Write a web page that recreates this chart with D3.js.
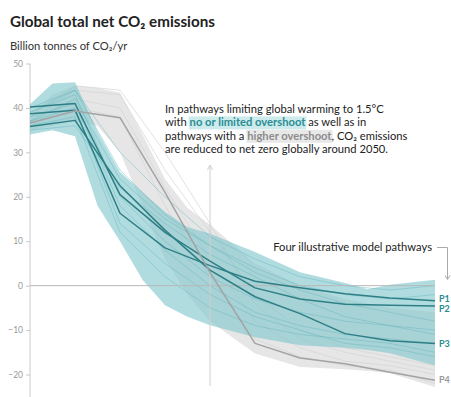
<!DOCTYPE html>
<html>
<head>
<meta charset="utf-8">
<script src="https://cdn.jsdelivr.net/npm/d3@7"></script>
<style>
  html, body { margin: 0; padding: 0; background: #fff; }
  svg { display: block; font-family: Lato, "Noto Sans", sans-serif; }
  text { white-space: pre; }
</style>
</head>
<body>
<svg id="chart" width="451" height="397"></svg>
<script>
// Decadal years for the individual pathways
const years = [2010, 2020, 2030, 2040, 2050, 2060, 2070, 2080, 2090, 2100];

// Illustrative model pathways (billion tonnes CO2 / yr)
const P1 = [38.7, 39.5, 16.3, 8.5, 4.5, 1.0, -0.5, -1.8, -2.8, -3.4];
const P2 = [40.2, 41.0, 20.5, 12.0, 5.5, -0.5, -3.0, -4.2, -4.4, -4.6];
const P3 = [35.8, 37.2, 22.5, 12.5, 3.5, -2.5, -6.3, -10.8, -12.4, -13.0];
const P4 = [36.6, 39.3, 37.8, 21.0, 3.0, -13.0, -16.3, -17.6, -19.5, -21.3];
const pathwayNames = ["P1", "P2", "P3", "P4"];

// Range envelopes, sampled more finely
const bandYears = [2010, 2015, 2020, 2025, 2030, 2035, 2040, 2045, 2050, 2060, 2070, 2080, 2085, 2090, 2100];
const lowUpper  = [40.8, 45.5, 45.8, 34.7, 25.6, 21.0, 16.6, 13.2, 11.7, 7.6, 3.0, 0.6, -0.8, 0.2, 1.3];
const lowLower  = [34.0, 35.0, 33.6, 18.0, 10.0, 1.3, -4.4, -7.0, -8.9, -11.6, -13.4, -14.0, -14.5, -15.2, -18.0];
const highUpper = [38.0, 43.0, 45.0, 44.5, 43.4, 34.0, 24.0, 17.5, 13.7, 5.0, 0.0, -3.0, -4.0, -5.0, -6.0];
const highLower = [35.0, 36.0, 37.0, 36.0, 30.0, 18.0, 6.0, -2.0, -8.0, -15.3, -18.3, -18.8, -19.2, -19.7, -22.8];

// Faint individual scenarios inside each envelope
const lowScenarios = [
  [40.0, 44.0, 30.0, 20.0, 11.0, 6.0, 2.0, 0.0, -1.0, 0.0],
  [37.0, 42.0, 24.0, 15.0, 9.0, 4.0, 0.0, -2.0, -3.0, -2.0],
  [39.0, 43.0, 20.0, 10.0, 2.0, -3.0, -6.0, -8.0, -9.0, -10.0],
  [36.0, 38.0, 12.0, 2.0, -5.0, -9.0, -11.0, -12.0, -13.0, -15.0],
  [38.0, 41.0, 18.0, 8.0, 0.0, -6.0, -9.0, -11.0, -12.0, -13.0],
  [35.0, 36.0, 22.0, 14.0, 7.0, 2.0, -3.0, -7.0, -9.0, -11.0],
  [39.0, 44.0, 26.0, 16.0, 9.0, 3.0, -1.0, -4.0, -6.0, -8.0],
  [37.0, 40.0, 14.0, 5.0, -2.0, -7.0, -10.0, -13.0, -14.0, -16.0]
];
const highScenarios = [
  [37.0, 44.0, 43.0, 26.0, 12.0, -2.0, -10.0, -14.0, -16.0, -18.0],
  [36.0, 42.0, 40.0, 22.0, 6.0, -8.0, -14.0, -17.0, -18.0, -20.0],
  [38.0, 45.0, 44.0, 30.0, 14.0, -4.0, -12.0, -15.0, -17.0, -19.0],
  [36.0, 40.0, 38.0, 18.0, 2.0, -12.0, -16.0, -18.0, -19.0, -22.0]
];

const yTicks = [50, 40, 30, 20, 10, 0, -10, -20];

const teal = "#2d7f85";
const tealLabel = "#2a8a90";
const greyLine = "#a3a3a3";

const svg = d3.select("#chart");

const x = d3.scaleLinear().domain([2010, 2100]).range([30, 435]);
const y = d3.scaleLinear().domain([-20, 50]).range([374.5, 63.5]);

// Title and unit
svg.append("text").attr("x", 10).attr("y", 27)
  .attr("font-size", 15.2).attr("font-weight", 700).attr("fill", "#222")
  .text("Global total net CO₂ emissions");
svg.append("text").attr("x", 10).attr("y", 50)
  .attr("font-size", 11.2).attr("fill", "#333")
  .text("Billion tonnes of CO₂/yr");

// Y axis
svg.append("line").attr("x1", 30).attr("x2", 30).attr("y1", y(50)).attr("y2", 397)
  .attr("stroke", "#dcdcdc").attr("stroke-width", 1.5);
const yAxis = svg.append("g").attr("transform", "translate(30,0)")
  .call(d3.axisLeft(y).tickValues(yTicks).tickSize(4).tickPadding(3));
yAxis.select(".domain").remove();
yAxis.selectAll(".tick line").attr("stroke", "#c8c8c8");
yAxis.selectAll(".tick text").attr("fill", "#9a9a9a").attr("font-size", 8.5)
  .attr("font-family", "Lato, sans-serif");

// Envelopes
const area = (up, lo) => d3.area()
  .x((d, i) => x(bandYears[i]))
  .y0((d, i) => y(lo[i]))
  .y1((d, i) => y(up[i]))(up);

svg.append("path").attr("d", area(highUpper, highLower))
  .attr("fill", "#e6e6e6");
const line = d3.line().x((d, i) => x(years[i])).y(d => y(d));
highScenarios.forEach(s => svg.append("path").attr("d", line(s))
  .attr("fill", "none").attr("stroke", "#d4d4d4").attr("stroke-width", 0.7));

svg.append("path").attr("d", area(lowUpper, lowLower))
  .attr("fill", "#7fc7cd").attr("fill-opacity", 0.62);
lowScenarios.forEach(s => svg.append("path").attr("d", line(s))
  .attr("fill", "none").attr("stroke", "#5fb3ba").attr("stroke-width", 0.7)
  .attr("stroke-opacity", 0.6));

// Zero line
svg.append("line").attr("x1", 30).attr("x2", x(2100)).attr("y1", y(0)).attr("y2", y(0))
  .attr("stroke", "#b9b9b9").attr("stroke-width", 1);

// 2050 marker pointing up to the note
const x50 = x(2050);
svg.append("line").attr("x1", x50).attr("x2", x50).attr("y1", 166).attr("y2", 386)
  .attr("stroke", "#cfcfcf").attr("stroke-width", 1);
svg.append("path").attr("d", `M${x50 - 2.5},${170} L${x50},${165} L${x50 + 2.5},${170}`)
  .attr("fill", "none").attr("stroke", "#cfcfcf").attr("stroke-width", 1);

// Illustrative pathways
const series = [P1, P2, P3, P4];
series.forEach((s, i) => svg.append("path").attr("d", line(s))
  .attr("fill", "none").attr("stroke", i === 3 ? greyLine : teal)
  .attr("stroke-width", 1.5).attr("stroke-linejoin", "round"));

// End labels, nudged apart where they would overlap
const ends = series.map(s => y(s[s.length - 1]));
for (let k = 1; k < ends.length; k++) {
  if (ends[k] - ends[k - 1] < 10) {
    const mid = (ends[k] + ends[k - 1]) / 2;
    ends[k - 1] = mid - 5; ends[k] = mid + 5;
  }
}
pathwayNames.forEach((n, i) => svg.append("text")
  .attr("x", 439).attr("y", ends[i]).attr("dy", "0.35em")
  .attr("font-size", 9).attr("font-weight", 700)
  .attr("fill", i === 3 ? "#999" : tealLabel).text(n));

// Pathway label with bracket arrow
svg.append("text").attr("x", 432).attr("y", 251).attr("text-anchor", "end")
  .attr("font-size", 11.2).attr("fill", "#222").text("Four illustrative model pathways");
svg.append("path").attr("d", "M437,247.5 H447.5 V279")
  .attr("fill", "none").attr("stroke", "#aaa").attr("stroke-width", 1);
svg.append("path").attr("d", "M445,275.5 L447.5,279.5 L450,275.5")
  .attr("fill", "none").attr("stroke", "#aaa").attr("stroke-width", 1);

// Annotation with highlighted phrases
const note = [
  [{ t: "In pathways limiting global warming to 1.5°C" }],
  [{ t: "with " }, { t: "no or limited overshoot", hl: "low" }, { t: " as well as in" }],
  [{ t: "pathways with a " }, { t: "higher overshoot", hl: "high" }, { t: ", CO₂ emissions" }],
  [{ t: "are reduced to net zero globally around 2050." }]
];
const noteG = svg.append("g");
note.forEach((segs, li) => {
  let cx = 165;
  const by = 113 + li * 13.4;
  segs.forEach(seg => {
    const t = noteG.append("text").attr("x", cx).attr("y", by)
      .attr("font-size", 11.2).attr("fill", "#222")
      .attr("font-weight", seg.hl ? 700 : 400).text(seg.t);
    if (seg.hl === "low") t.attr("fill", "#2b8d93");
    if (seg.hl === "high") t.attr("fill", "#8c8c8c");
    const w = t.node().getComputedTextLength();
    if (seg.hl) {
      noteG.insert("rect", "text").attr("x", cx - 1).attr("y", by - 10)
        .attr("width", w + 2).attr("height", 13)
        .attr("fill", seg.hl === "low" ? "#cdebed" : "#e8e8e8");
    }
    cx += w;
  });
});
</script>
</body>
</html>
